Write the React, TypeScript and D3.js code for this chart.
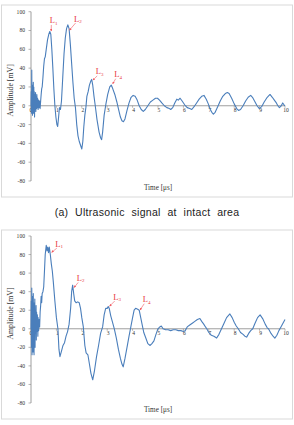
import React from 'react';
import * as d3 from 'd3';

// time [us], amplitude [mV]
const signalA: [number, number][] = [
  [0, 0], [0.01, 15], [0.02, -8], [0.03, 38], [0.04, -5], [0.05, 22], [0.06, -10], [0.07, 18],
  [0.08, -3], [0.09, 25], [0.1, -8], [0.11, 20], [0.12, -2], [0.13, 15], [0.14, -12], [0.15, 12],
  [0.16, -4], [0.18, 14], [0.19, -6], [0.2, 10], [0.22, -3], [0.23, 12], [0.25, -2], [0.26, 8],
  [0.28, -4], [0.3, 6], [0.32, -2], [0.34, 5], [0.36, -3], [0.38, 5], [0.4, 12], [0.42, 18],
  [0.44, 20], [0.47, 30], [0.5, 42], [0.53, 50], [0.56, 52], [0.6, 60], [0.65, 70], [0.7, 76],
  [0.74, 79], [0.78, 76], [0.82, 60], [0.86, 40], [0.9, 18], [0.94, 0], [0.98, -12], [1.02, -20],
  [1.05, -22], [1.08, -14], [1.12, -2], [1.16, -4], [1.2, 5], [1.25, 30], [1.3, 55], [1.35, 72],
  [1.4, 82], [1.45, 86], [1.5, 82], [1.55, 65], [1.6, 45], [1.65, 25], [1.7, 8], [1.75, -2],
  [1.8, -20], [1.85, -32], [1.9, -38], [1.95, -42], [2.0, -46], [2.04, -38], [2.08, -22], [2.12, -10],
  [2.16, -2], [2.2, 10], [2.25, 15], [2.3, 22], [2.35, 26], [2.39, 28], [2.43, 22], [2.48, 10],
  [2.53, 0], [2.6, -15], [2.68, -28], [2.74, -34], [2.78, -36], [2.82, -28], [2.88, -10], [2.95, 2],
  [3.02, 12], [3.1, 20], [3.16, 22], [3.22, 18], [3.3, 12], [3.38, 4], [3.45, -4], [3.52, -12],
  [3.58, -16], [3.64, -17], [3.7, -14], [3.78, -5], [3.86, 3], [3.94, 9], [4.02, 11], [4.1, 10],
  [4.18, 6], [4.26, 0], [4.34, -4], [4.42, -6], [4.5, -4], [4.6, 0], [4.7, 4], [4.8, 6],
  [4.9, 8], [4.98, 8], [5.06, 6], [5.15, 3], [5.25, 0], [5.35, -2], [5.45, -3], [5.5, -4],
  [5.58, -2], [5.66, 3], [5.74, 7], [5.8, 6], [5.87, 8], [5.95, 5], [6.05, 1], [6.15, -2],
  [6.25, -3], [6.33, -4], [6.42, -1], [6.52, 3], [6.62, 7], [6.72, 10], [6.81, 11], [6.9, 7],
  [6.98, 2], [7.06, -4], [7.12, -7], [7.18, -9], [7.25, -7], [7.35, -1], [7.45, 5], [7.55, 10],
  [7.65, 13], [7.73, 14], [7.8, 13], [7.9, 8], [8.0, 2], [8.1, -3], [8.17, -5], [8.25, -4],
  [8.35, 0], [8.45, 5], [8.55, 9], [8.65, 11], [8.72, 9], [8.8, 5], [8.9, 0], [8.99, -3],
  [9.08, -1], [9.18, 4], [9.3, 9], [9.41, 12], [9.5, 9], [9.58, 6], [9.66, 3], [9.72, 0],
  [9.78, -2], [9.85, 0], [9.91, 3], [9.96, 1], [10, 0],
];

const signalB: [number, number][] = [
  [0, 0], [0.01, 30], [0.02, -20], [0.03, 44], [0.04, -28], [0.05, 35], [0.06, -15], [0.07, 30],
  [0.08, -25], [0.09, 38], [0.1, -10], [0.11, 28], [0.12, -28], [0.13, 25], [0.14, -8], [0.15, 32],
  [0.16, -20], [0.17, 20], [0.18, -5], [0.2, 25], [0.21, -12], [0.22, 18], [0.24, -3], [0.25, 15],
  [0.27, -8], [0.28, 12], [0.3, -2], [0.32, 10], [0.34, 2], [0.36, 18], [0.38, 25], [0.4, 35],
  [0.42, 28], [0.44, 38], [0.47, 40], [0.5, 45], [0.53, 62], [0.56, 80], [0.6, 90], [0.63, 84],
  [0.66, 88], [0.69, 82], [0.72, 88], [0.76, 80], [0.8, 70], [0.84, 62], [0.88, 50], [0.94, 30],
  [1.0, 12], [1.06, 0], [1.1, -22], [1.14, -30], [1.2, -24], [1.26, -18], [1.32, -15], [1.38, -8],
  [1.44, -3], [1.5, 5], [1.56, 22], [1.6, 40], [1.64, 47], [1.68, 38], [1.72, 30], [1.78, 28],
  [1.84, 29], [1.9, 28], [1.95, 22], [2.0, 12], [2.06, 2], [2.12, -18], [2.17, -26], [2.24, -28],
  [2.3, -38], [2.36, -48], [2.43, -55], [2.5, -45], [2.58, -30], [2.66, -18], [2.74, -5], [2.82, 2],
  [2.88, 15], [2.94, 22], [3.0, 22], [3.04, 24], [3.08, 22], [3.14, 14], [3.2, 8], [3.28, 0],
  [3.36, -10], [3.44, -22], [3.52, -32], [3.58, -38], [3.63, -41], [3.7, -32], [3.78, -20], [3.86, -8],
  [3.93, 2], [4.0, 12], [4.06, 20], [4.12, 22], [4.2, 21], [4.26, 20], [4.32, 12], [4.38, 4],
  [4.44, -4], [4.52, -10], [4.6, -16], [4.69, -18], [4.76, -16], [4.84, -13], [4.92, -6], [5.0, 0],
  [5.07, 2], [5.13, 3], [5.2, 0], [5.3, -1], [5.4, -1], [5.5, -2], [5.6, -1], [5.7, -1],
  [5.8, -2], [5.9, -2], [6.0, -3], [6.07, -2], [6.15, 2], [6.25, 4], [6.35, 6], [6.45, 8],
  [6.55, 10], [6.65, 11], [6.72, 8], [6.8, 5], [6.87, 2], [6.92, 0], [7.0, -4], [7.1, -7],
  [7.2, -8], [7.31, -10], [7.4, -6], [7.5, 0], [7.6, 6], [7.7, 12], [7.83, 16], [7.92, 12],
  [8.0, 7], [8.08, 3], [8.16, 0], [8.25, -4], [8.35, -6], [8.42, -8], [8.49, -9], [8.57, -5],
  [8.65, -2], [8.73, 0], [8.82, 6], [8.92, 12], [9.02, 15], [9.12, 11], [9.22, 5], [9.3, 1],
  [9.35, 0], [9.45, -5], [9.53, -8], [9.6, -10], [9.68, -7], [9.76, -2], [9.84, 2], [9.92, 6],
  [10, 10],
];

// label, arrow target (t, mV), label offset in px
const notesA = [
  { n: '1', t: 0.78, v: 79, dx: -1, dy: -8 },
  { n: '2', t: 1.5, v: 80, dx: 5, dy: -9 },
  { n: '3', t: 2.43, v: 27, dx: 3, dy: -6 },
  { n: '4', t: 3.2, v: 23, dx: 2, dy: -7 },
];
const notesB = [
  { n: '1', t: 0.8, v: 82, dx: 4, dy: -6 },
  { n: '2', t: 1.68, v: 44, dx: 3, dy: -7 },
  { n: '3', t: 3.08, v: 24, dx: 4, dy: -7 },
  { n: '4', t: 4.28, v: 20, dx: 3, dy: -8 },
];

const xTicks = d3.range(0, 11);
const yTicks = d3.range(-80, 101, 20);

const serif = '"Liberation Serif", "DejaVu Serif", serif';

const Chart = ({ data, notes, top, yTop, yBot }) => {
  const x = d3.scaleLinear().domain([0, 10]).range([31, 285]);
  const y = d3.scaleLinear().domain([-80, 100]).range([yBot, yTop]);
  const line = d3.line<[number, number]>().x((d) => x(d[0])).y((d) => y(d[1]));

  return (
    <g>
      <rect x={1.5} y={top} width={291} height={yBot - top + 16} fill="white" stroke="#d9d9d9" strokeWidth={1} />
      {/* y axis */}
      <line x1={31} x2={31} y1={y(100)} y2={y(-80)} stroke="#868686" strokeWidth={0.8} />
      {yTicks.map((t) => (
        <g key={t}>
          <line x1={28.5} x2={31} y1={y(t)} y2={y(t)} stroke="#868686" strokeWidth={0.6} />
          <text x={25} y={y(t)} dy="0.35em" textAnchor="end" fontSize={5.6} fontFamily={serif} fill="#333">{t}</text>
        </g>
      ))}
      {/* zero line */}
      <line x1={31} x2={285} y1={y(0)} y2={y(0)} stroke="#868686" strokeWidth={0.8} />
      {xTicks.map((t) => (
        <g key={t}>
          <line x1={x(t)} x2={x(t)} y1={y(0)} y2={y(0) + 2} stroke="#868686" strokeWidth={0.6} />
          <text x={x(t) + (t === 0 ? 0 : 1)} y={y(0) + 6.5} textAnchor="middle" fontSize={5.6} fontFamily={serif} fill="#333">{t}</text>
        </g>
      ))}
      <path d={line(data) ?? ''} fill="none" stroke="#4A7EBB" strokeWidth={1.1} strokeLinejoin="round" />
      {notes.map((a) => {
        const px = x(a.t);
        const py = y(a.v);
        const lx = px + a.dx;
        const ly = py + a.dy;
        return (
          <g key={a.n}>
            <line x1={lx + 1.5} y1={ly + 1.5} x2={px + 0.4} y2={py - 0.4} stroke="#f0585f" strokeWidth={0.6} markerEnd="url(#arr)" />
            <text x={lx} y={ly} fontSize={8.5} fontFamily={serif} fill="#e8383d">
              L<tspan fontSize={5} dy={1.5}>{a.n}</tspan>
            </text>
          </g>
        );
      })}
      <text transform={`translate(13,${(y(100) + y(-80)) / 2 - 6}) rotate(-90)`} textAnchor="middle" fontSize={7.8} fontFamily={serif} fill="#333">
        Amplitude [mV]
      </text>
      <text x={158} y={yBot + 8.5} textAnchor="middle" fontSize={7.2} fontFamily={serif} fill="#333">
        Time [μs]
      </text>
    </g>
  );
};

export default function App() {
  return (
    <svg width={294} height={425} style={{ position: 'absolute', left: 0, top: 0 }}>
      <defs>
        <marker id="arr" viewBox="0 0 6 6" refX={5} refY={3} markerWidth={4} markerHeight={4} orient="auto">
          <path d="M0,0 L6,3 L0,6 z" fill="#f0585f" />
        </marker>
      </defs>
      <rect width={294} height={425} fill="white" />
      <Chart data={signalA} notes={notesA} top={5} yTop={11.7} yBot={181} />
      <text x={147} y={215.5} textAnchor="middle" fontSize={10.5} fontFamily='"Liberation Sans", Arial, sans-serif' letterSpacing={0.3} wordSpacing={3.5} fill="#222">
        (a) Ultrasonic signal at intact area
      </text>
      <Chart data={signalB} notes={notesB} top={230} yTop={236} yBot={403} />
    </svg>
  );
}
